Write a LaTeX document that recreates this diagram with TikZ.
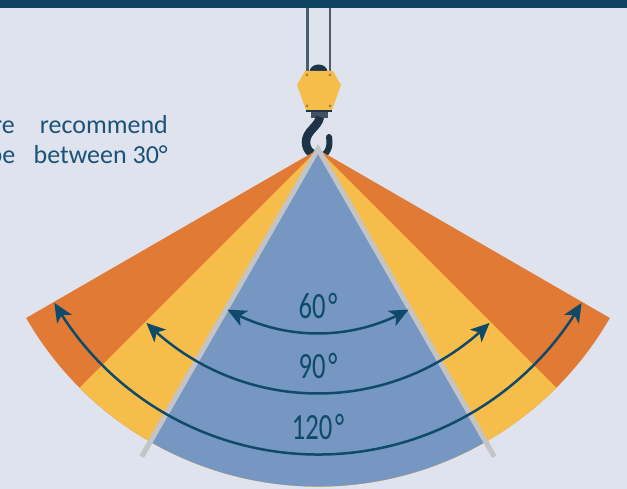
\documentclass[tikz,border=0pt]{standalone}
\usepackage{fontspec}
\setmainfont{Carlito}
\usetikzlibrary{arrows.meta,bending,calc}
\definecolor{bg}{HTML}{DFE3EE}
\definecolor{bar}{HTML}{0D4361}
\definecolor{orng}{HTML}{E17A35}
\definecolor{yell}{HTML}{F7BD4A}
\definecolor{blu}{HTML}{7597C2}
\definecolor{gry}{HTML}{C3C4C6}
\definecolor{arr}{HTML}{0F4A6A}
\definecolor{txt}{HTML}{1B5378}
\definecolor{hookc}{HTML}{1D3446}
\definecolor{rope}{HTML}{4B5E6E}
\definecolor{bolt}{HTML}{A07C3A}
\tikzset{
  anglearc/.style={line width=2.5pt, draw=arr, {Stealth[length=19pt,width=17pt,inset=5pt]}-{Stealth[length=19pt,width=17pt,inset=5pt]}},
  lbl/.style={text=arr, inner sep=0pt, anchor=base, font=\fontsize{37}{40}\selectfont},
  note/.style={text=txt, inner sep=0pt, font=\fontsize{26}{30}\selectfont},
}
\newcommand{\deglab}[1]{\scalebox{0.72}[1]{#1\hspace{4pt}°}}
\begin{document}
\begin{tikzpicture}[x=1pt,y=1pt]
\useasboundingbox (0,0) rectangle (627,489);
\clip (0,0) rectangle (627,489);
\fill[bg] (0,0) rectangle (627,489);
% top bar
\fill[bar] (0,481) rectangle (627,489);
% ropes
\coordinate (r1t) at (307.5,481); \coordinate (r1b) at (307.5,416);
\coordinate (r2t) at (330,481); \coordinate (r2b) at (330,416);
\draw[rope, line width=2.5pt] (r1t) -- (r1b);
\draw[rope, line width=2.5pt] (r2t) -- (r2b);
% dome
\fill[hookc] (309.5,417) arc[start angle=180,end angle=0,x radius=9,y radius=7.5] -- cycle;
% block
\fill[yell] (305,418) -- (333,418) -- (341,404) -- (332,379) -- (306,379) -- (297,404) -- cycle;
\foreach \p in {(307,414),(330,414),(307,383),(330,383)} \fill[bolt] \p circle (1.5);
% collar
\fill[hookc] (306,379) rectangle (332,376.5);
\fill[hookc!85!white] (311,376.5) rectangle (328,371);
% hook
\draw[hookc, line width=8.5pt] (320,372) .. controls (318,362) and (306,358) .. (306,347) .. controls (306,338) and (313,333) .. (320,333);
\draw[hookc, line width=6pt, line cap=round] (319,333) .. controls (327,333) and (331,342) .. (329,352);
% sectors
\coordinate (S) at (318,339.5);
\fill[orng] (S) -- +(-150:337) arc[start angle=-150,end angle=-30,radius=337] -- cycle;
\fill[yell] (S) -- +(-135:337) arc[start angle=-135,end angle=-45,radius=337] -- cycle;
\fill[blu] (S) -- +(-120:337) arc[start angle=-120,end angle=-60,radius=337] -- cycle;
% grey lines
\coordinate (G) at (318,340);
\coordinate (gl) at (141.7,32.3);
\coordinate (gr) at (494.3,32.3);
\draw[gry, line width=5pt] (gl) -- (G) -- (gr);
% angle arcs
\coordinate (A) at (318,339.5);
\draw[anglearc] ($(A)+(-119.5:184)$) arc[start angle=-119.5,end angle=-60.5,radius=184];
\draw[anglearc] ($(A)+(-134.7:244)$) arc[start angle=-134.7,end angle=-45.3,radius=244];
\draw[anglearc] ($(A)+(-149.8:305)$) arc[start angle=-149.8,end angle=-30.2,radius=305];
% labels
\node[lbl] (l60) at (318,170) {\deglab{60}};
\node[lbl] (l90) at (318,110) {\deglab{90}};
\node[lbl] (l120) at (318,49) {\deglab{120}};
% side text
\node[note, anchor=base east] (t1a) at (15,355.7) {re};
\node[note, anchor=base east] (t1b) at (168,355.7) {recommend};
\node[note, anchor=base east] (t2a) at (15.5,325.7) {be};
\node[note, anchor=base east] (t2b) at (168,325.7) {between 30°};
\end{tikzpicture}
\end{document}
